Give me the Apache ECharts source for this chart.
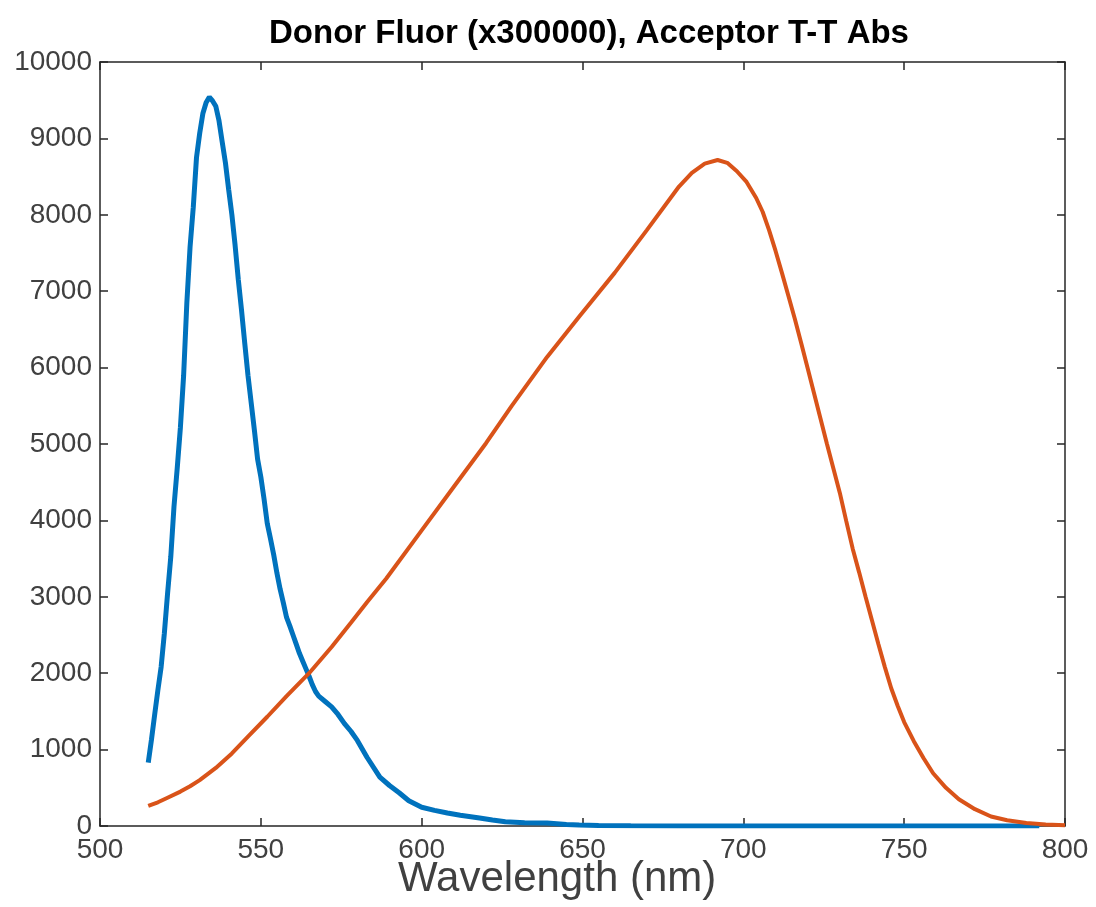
<!DOCTYPE html>
<html>
<head>
<meta charset="utf-8">
<script src="https://cdn.jsdelivr.net/npm/echarts@6/dist/echarts.min.js"></script>
<style>
html,body{margin:0;padding:0;background:#fff;}
#chart{width:1096px;height:907px;}
</style>
</head>
<body>
<div id="chart"></div>
<script>
// Donor fluorescence (x300000)
const donorWl  = [515,516,517,518,519,520,521,522,523,524,525,526,527,528,529,530,531,532,533,534,535,536,537,538,539,540,541,542,543,544,545,546,547,548,549,550,551,552,553,554,555,556,557,558,559,560,561,562,563,564,565,566,567,568,570,572,574,576,578,580,583,587,590,593,596,600,604,608,612,618,622,626,632,639,645,649,655,665,680,700,750,792];
const donorVal = [830,1130,1460,1780,2080,2520,3040,3520,4180,4680,5220,5900,6850,7580,8100,8750,9070,9330,9470,9540,9490,9420,9230,8950,8680,8330,8000,7600,7150,6750,6320,5900,5540,5180,4800,4570,4280,3960,3760,3550,3310,3100,2920,2730,2620,2500,2380,2260,2160,2060,1960,1850,1760,1700,1630,1560,1460,1340,1240,1120,900,640,530,435,330,245,205,170,140,105,78,55,42,38,20,12,5,2,0,0,0,0];
// Acceptor T-T absorption
const accWl  = [515,518,521,525,528,531,536,541,546,552,558,565,572,578,583,589,600,610,620,628,639,649,660,670,680,684,688,692,695,698,701,704,706,708,710,712,714,716,718,720,722,724,726,728,730,732,734,736,738,740,742,744,746,748,750,753,756,759,763,767,772,777,782,788,794,800];
const accVal = [262,310,370,450,520,600,760,950,1170,1430,1700,2000,2343,2660,2930,3240,3870,4440,5010,5500,6140,6670,7240,7800,8370,8550,8670,8717,8680,8570,8430,8220,8040,7800,7530,7240,6940,6640,6320,5990,5660,5330,5000,4680,4360,3990,3630,3320,3000,2690,2380,2080,1800,1570,1360,1110,890,690,500,350,220,125,75,40,20,10];

const xTicks = [500,550,600,650,700,750,800];
const yTicks = [0,1000,2000,3000,4000,5000,6000,7000,8000,9000,10000];

const titleText = 'Donor Fluor (x300000), Acceptor T-T Abs';
const xLabelText = 'Wavelength (nm)';

const FONT = '"Liberation Sans", Arial, Helvetica, sans-serif';
const AX = '#262626';
const LBL = '#404040';

const chart = echarts.init(document.getElementById('chart'), null, {renderer: 'canvas'});

const baseX = {
  type: 'value', min: 500, max: 800, interval: 50,
  axisLine: {show: true, onZero: false, lineStyle: {color: AX, width: 1.5}},
  axisTick: {show: true, inside: true, length: 8, lineStyle: {color: AX, width: 1.5}},
  splitLine: {show: false}
};
const baseY = {
  type: 'value', min: 0, max: 10000, interval: 1000,
  axisLine: {show: true, onZero: false, lineStyle: {color: AX, width: 1.5}},
  axisTick: {show: true, inside: true, length: 8, lineStyle: {color: AX, width: 1.5}},
  splitLine: {show: false}
};

chart.setOption({
  animation: false,
  backgroundColor: '#ffffff',
  title: {
    text: titleText, left: 584, top: 12, textAlign: 'center',
    textStyle: {fontFamily: FONT, fontWeight: 'bold', fontSize: 33, color: '#000'}
  },
  grid: {left: 100, right: 31, top: 62, bottom: 81, containLabel: false},
  xAxis: [
    Object.assign({}, baseX, {
      position: 'bottom',
      axisLabel: {show: true, margin: 10, fontFamily: FONT, fontSize: 28, color: LBL,
        formatter: v => xTicks.includes(v) ? String(v) : ''}
    }),
    Object.assign({}, baseX, {position: 'top', axisLabel: {show: false}})
  ],
  yAxis: [
    Object.assign({}, baseY, {
      position: 'left',
      axisLabel: {show: true, margin: 8, fontFamily: FONT, fontSize: 28, color: LBL,
        formatter: v => yTicks.includes(v) ? String(v) : ''}
    }),
    Object.assign({}, baseY, {position: 'right', axisLabel: {show: false}})
  ],
  graphic: [{
    type: 'text', left: 398, top: 858,
    style: {text: xLabelText, fontFamily: FONT, fontSize: 42, fill: LBL}
  }],
  series: [
    {
      type: 'line', xAxisIndex: 0, yAxisIndex: 0, showSymbol: false, symbol: 'none',
      data: donorWl.map((w, i) => [w, donorVal[i]]),
      lineStyle: {color: '#0072BD', width: 5},
      z: 2
    },
    {
      type: 'line', xAxisIndex: 0, yAxisIndex: 0, showSymbol: false, symbol: 'none',
      data: accWl.map((w, i) => [w, accVal[i]]),
      lineStyle: {color: '#D95319', width: 4},
      z: 3
    }
  ]
});
</script>
</body>
</html>
